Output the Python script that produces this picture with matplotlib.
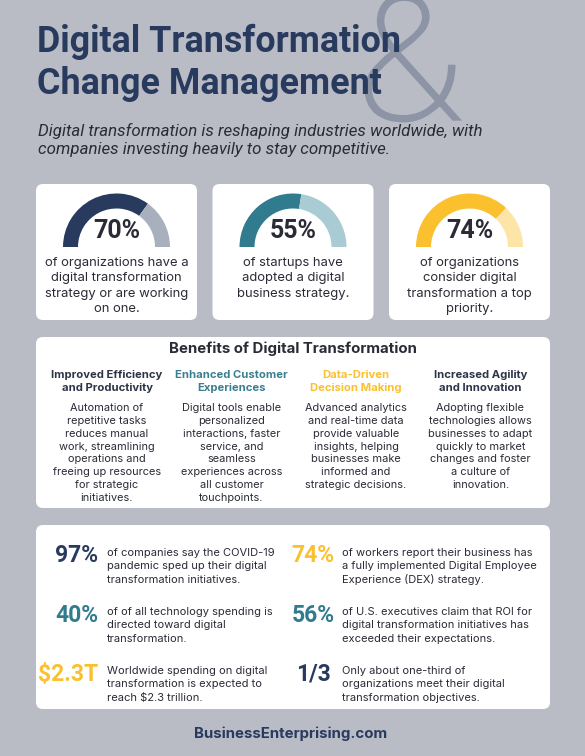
import matplotlib
matplotlib.use("Agg")
import matplotlib.pyplot as plt
from matplotlib.patches import FancyBboxPatch, Wedge, PathPatch
from matplotlib.textpath import TextPath
from matplotlib.font_manager import FontProperties
from matplotlib.transforms import Affine2D

# ---- content ----
TITLE_LINES = ["Digital Transformation", "Change Management"]
SUBTITLE_LINES = [
    "Digital transformation is reshaping industries worldwide, with",
    "companies investing heavily to stay competitive.",
]

gauge_values = [70, 55, 74]
gauge_labels = [
    ["of organizations have a", "digital transformation", "strategy or are working", "on one."],
    ["of startups have", "adopted a digital", "business strategy."],
    ["of organizations", "consider digital", "transformation a top", "priority."],
]

benefit_titles = [
    ["Improved Efficiency", "and Productivity"],
    ["Enhanced Customer", "Experiences"],
    ["Data-Driven", "Decision Making"],
    ["Increased Agility", "and Innovation"],
]
benefit_texts = [
    ["Automation of", "repetitive tasks", "reduces manual", "work, streamlining",
     "operations and", "freeing up resources", "for strategic", "initiatives."],
    ["Digital tools enable", "personalized", "interactions, faster", "service, and",
     "seamless", "experiences across", "all customer", "touchpoints."],
    ["Advanced analytics", "and real-time data", "provide valuable", "insights, helping",
     "businesses make", "informed and", "strategic decisions."],
    ["Adopting flexible", "technologies allows", "businesses to adapt", "quickly to market",
     "changes and foster", "a culture of", "innovation."],
]

stat_numbers = ["97%", "40%", "$2.3T", "74%", "56%", "1/3"]
stat_texts = [
    ["of companies say the COVID-19", "pandemic sped up their digital", "transformation initiatives."],
    ["of of all technology spending is", "directed toward digital", "transformation."],
    ["Worldwide spending on digital", "transformation is expected to", "reach $2.3 trillion."],
    ["of workers report their business has", "a fully implemented Digital Employee",
     "Experience (DEX) strategy."],
    ["of U.S. executives claim that ROI for", "digital transformation initiatives has",
     "exceeded their expectations."],
    ["Only about one-third of", "organizations meet their digital", "transformation objectives."],
]

FOOTER = "BusinessEnterprising.com"

# ---- style ----
BG = "#b9bbc5"
NAVY = "#283a5e"
TEAL = "#317b8e"
YELLOW = "#fbc02d"
TEXT = "#2a2b36"
AMP = "#8c94a5"
gauge_colors = [NAVY, TEAL, YELLOW]
gauge_rest = ["#a9b0bd", "#a9cbd3", "#fde5a7"]
benefit_colors = ["#2d3447", "#3a7f91", YELLOW, "#2d3447"]
stat_colors = [NAVY, TEAL, YELLOW, YELLOW, TEAL, NAVY]

BODY = "Inter"
HEAD = "Roboto"

fig = plt.figure(figsize=(5.85, 7.56), dpi=100, facecolor=BG)
ax = fig.add_axes([0, 0, 1, 1])
ax.set_xlim(0, 585)
ax.set_ylim(756, 0)
ax.axis("off")


def card(x, y, w, h):
    ax.add_patch(FancyBboxPatch((x, y), w, h, boxstyle="round,pad=0,rounding_size=7",
                                fc="white", ec="none", zorder=1))


def lines(xc, ytop, rows, step, **kw):
    for i, s in enumerate(rows):
        ax.text(xc, ytop + i * step, s, parse_math=False, va="center", **kw)


# big ampersand behind title (light weight, thickened a little with an edge)
tp = TextPath((0, 0), "&", size=100, prop=FontProperties(family=HEAD, weight="light"))
bb = tp.get_extents()
sx = (459 - 366) / bb.width
sy = (121 + 5) / bb.height
tr = Affine2D().translate(-bb.x0, -bb.y1).scale(sx, -sy).translate(366, -5)
ax.add_patch(PathPatch(tr.transform_path(tp), fc=AMP, ec=AMP, lw=2.0, zorder=0))

# title
for i, s in enumerate(TITLE_LINES):
    ax.text(37, 52 + i * 41.5, s, family=HEAD, weight="bold", fontsize=25.8,
            color=NAVY, va="baseline", zorder=2)
for i, s in enumerate(SUBTITLE_LINES):
    ax.text(38, 136 + i * 17.8, s, family=HEAD, style="italic",
            fontsize=12.2, color=TEXT, va="baseline", zorder=2)

# gauge cards
card_x = [36, 212.5, 389]
card_w = 161
for i, v in enumerate(gauge_values):
    x0 = card_x[i]
    card(x0, 184, card_w, 136)
    cx = x0 + card_w / 2
    cy = 247
    split = 180 + 180 * v / 100
    ax.add_patch(Wedge((cx, cy), 53.5, 180, split, width=15, fc=gauge_colors[i], ec="none", zorder=2))
    ax.add_patch(Wedge((cx, cy), 53.5, split, 360, width=15, fc=gauge_rest[i], ec="none", zorder=2))
    ax.text(cx, 231, f"{v}%", family=HEAD, weight="bold", fontsize=18, color=TEXT,
            ha="center", va="center", zorder=3)
    lines(cx, 263, gauge_labels[i], 15.3, family=BODY, fontsize=9.4, color=TEXT,
          ha="center", zorder=3)

# benefits box
card(36, 337, 514, 171)
ax.text(293, 349, "Benefits of Digital Transformation", family=BODY, weight="bold",
        fontsize=10.8, color=TEXT, ha="center", va="center", zorder=3)
for i in range(4):
    xc = 107 + 124.5 * i
    lines(xc, 375, benefit_titles[i], 12.8, family=BODY, weight="bold", fontsize=8.1,
          color=benefit_colors[i], ha="center", zorder=3)
    lines(xc, 408, benefit_texts[i], 12.85, family=BODY, fontsize=7.9,
          color=TEXT, ha="center", zorder=3)

# stats box
card(36, 525, 514, 184)
for i, num in enumerate(stat_numbers):
    col, row = divmod(i, 3)
    y = 556 + row * 59
    if col == 0:
        ax.text(98, y, num, family=HEAD, weight="bold", fontsize=16.5, color=stat_colors[i],
                ha="right", va="center", parse_math=False, zorder=3)
        tx = 107
    else:
        ax.text(313, y, num, family=HEAD, weight="bold", fontsize=16.5, color=stat_colors[i],
                ha="center", va="center", parse_math=False, zorder=3)
        tx = 342.5
    lines(tx, y - 3, stat_texts[i], 13.3, family=BODY, fontsize=8.0, color=TEXT,
          ha="left", zorder=3)

# footer
ax.text(291, 734, FOOTER, family=BODY, weight="bold", fontsize=10.8, color=NAVY,
        ha="center", va="center", zorder=3)

fig.savefig("out.png", dpi=100, facecolor=BG)
